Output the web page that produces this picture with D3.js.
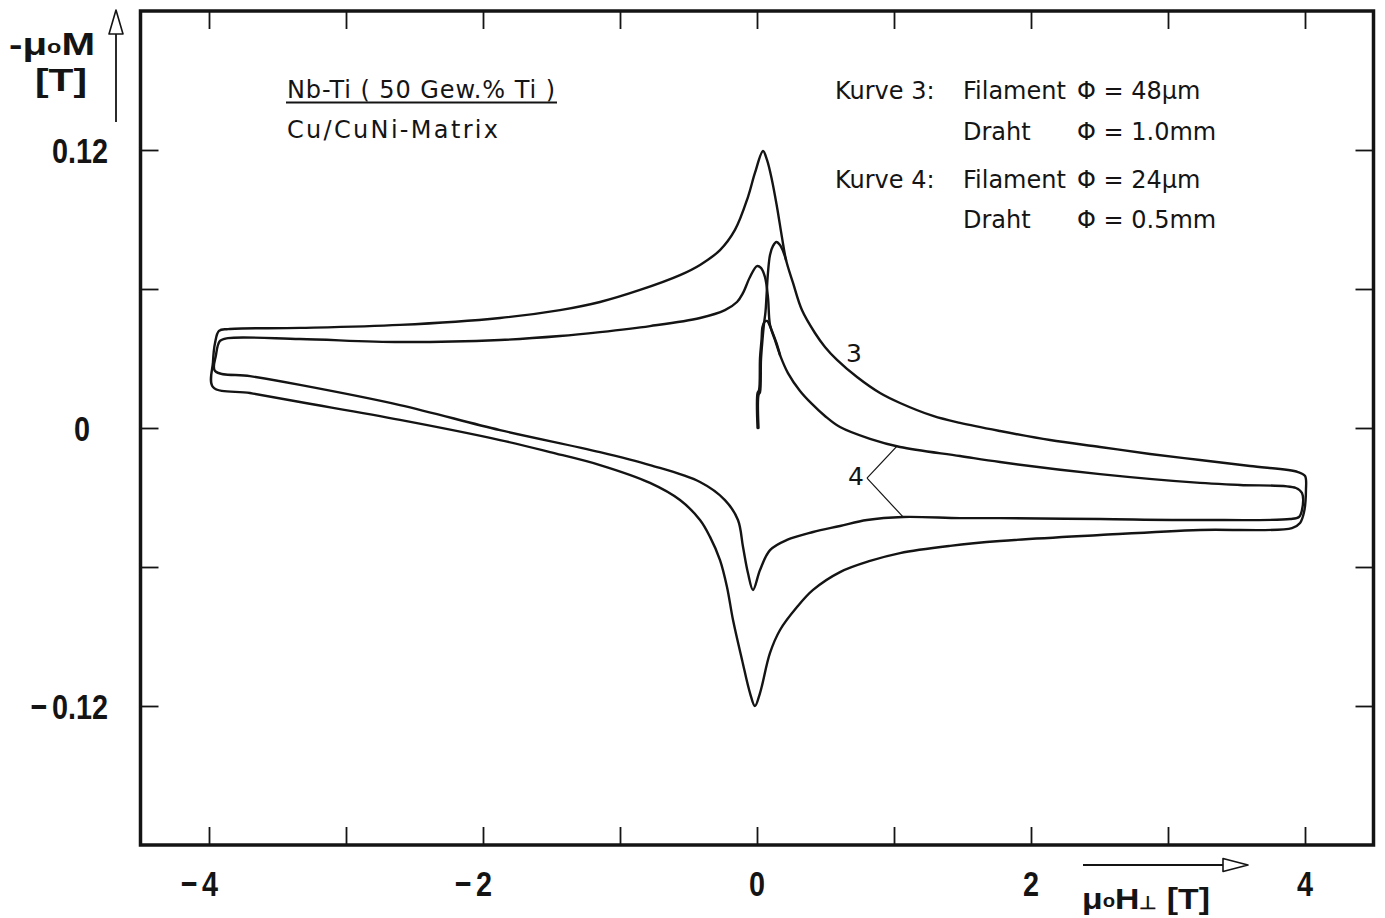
<!DOCTYPE html>
<html><head><meta charset="utf-8">
<script src="https://cdn.jsdelivr.net/npm/d3@7"></script>
<style>
body{margin:0;background:#fff}
svg{display:block}
</style>
</head><body>
<svg id="chart" width="1385" height="918"></svg>
<script>
// Axis ticks
const xTicks = [-4, -3, -2, -1, 0, 1, 2, 3, 4];
const xTickLabels = [-4, -2, 0, 2, 4];
const yTicks = [-0.12, -0.06, 0, 0.06, 0.12];
const yTickLabels = [0.12, 0, -0.12];

// Kurve 3 (48 µm filament): closed hysteresis loop, H in T, -µ0M in T
const loop3H = [-3.971,-3.971,-3.956,-3.927,-3.861,-3.336,-2.606,-1.876,-1.438,-1.146,-0.854,-0.562,-0.416,-0.270,-0.161,-0.066,-0.015,0.044,0.073,0.109,0.146,0.182,0.212,0.263,0.328,0.423,0.496,0.584,0.730,0.898,1.044,1.285,1.482,1.774,2.139,2.504,2.869,3.234,3.599,3.949,4.000,4.007,3.993,3.964,3.905,
  3.234,2.504,1.774,1.409,1.044,0.825,0.606,0.409,0.292,0.168,0.095,0.022,-0.015,-0.051,-0.109,-0.175,-0.219,-0.270,-0.343,-0.416,-0.562,-0.781,-1.146,-1.511,-1.876,-2.606,-3.336,-3.701];
const loop3M = [0.0177,0.0285,0.0367,0.0419,0.0427,0.0432,0.0445,0.0475,0.0509,0.0544,0.0596,0.0660,0.0704,0.0768,0.0855,0.0997,0.1101,0.1196,0.1157,0.1071,0.0954,0.0824,0.0725,0.0626,0.0509,0.0410,0.0350,0.0294,0.0220,0.0151,0.0108,0.0052,0.0022,-0.0013,-0.0052,-0.0082,-0.0112,-0.0138,-0.0164,-0.0190,-0.0207,-0.0268,-0.0363,-0.0410,-0.0432,
  -0.0440,-0.0462,-0.0488,-0.0509,-0.0540,-0.0574,-0.0622,-0.0699,-0.0773,-0.0872,-0.0971,-0.1144,-0.1200,-0.1144,-0.1001,-0.0829,-0.0686,-0.0570,-0.0470,-0.0397,-0.0311,-0.0237,-0.0160,-0.0104,-0.0052,0.0035,0.0112,0.0151];

// Kurve 4 (24 µm filament): closed hysteresis loop
const loop4H = [-3.956,-3.949,-3.920,-3.861,-3.336,-2.606,-1.876,-1.438,-1.146,-0.781,-0.416,-0.234,-0.146,-0.102,-0.051,0.000,0.029,0.058,0.080,0.095,0.131,0.168,0.226,0.314,0.401,0.496,0.606,0.825,1.044,1.482,1.774,2.504,3.234,3.526,3.934,3.978,3.978,3.956,3.891,
  3.234,2.504,1.774,1.482,1.066,0.803,0.606,0.409,0.219,0.095,0.022,-0.029,-0.066,-0.102,-0.139,-0.234,-0.416,-0.781,-1.146,-1.876,-2.606,-3.336,-3.701];
const loop4M = [0.0246,0.0315,0.0376,0.0388,0.0384,0.0371,0.0380,0.0397,0.0414,0.0440,0.0475,0.0509,0.0544,0.0583,0.0652,0.0699,0.0691,0.0652,0.0565,0.0445,0.0380,0.0315,0.0237,0.0160,0.0104,0.0052,0.0004,-0.0047,-0.0082,-0.0121,-0.0147,-0.0199,-0.0237,-0.0246,-0.0259,-0.0281,-0.0354,-0.0384,-0.0393,
  -0.0397,-0.0393,-0.0389,-0.0389,-0.0384,-0.0397,-0.0423,-0.0449,-0.0483,-0.0527,-0.0613,-0.0699,-0.0626,-0.0514,-0.0397,-0.0311,-0.0233,-0.0160,-0.0104,-0.0009,0.0099,0.0186,0.0224];

// Virgin (initial) magnetization curves starting at the origin
const virgin3H = [0.011,0.011,0.022,0.029,0.040,0.051,0.062,0.069,0.080,0.095,0.117,0.142,0.168,0.190,0.212];
const virgin3M = [0,0.0142,0.0155,0.0294,0.0380,0.0449,0.0501,0.0565,0.0669,0.0747,0.0786,0.0803,0.0790,0.0764,0.0725];
const virgin4H = [0.004,0.004,0.015,0.022,0.033,0.040,0.055,0.073,0.091,0.109,0.142,0.168];
const virgin4M = [0,0.0151,0.0164,0.0302,0.0380,0.0436,0.0458,0.0462,0.0445,0.0419,0.0367,0.0315];

// Curve labels and leader lines (data coordinates)
const label3 = {text: "3", H: 0.708, M: 0.0285};
const label4 = {text: "4", H: 0.723, M: -0.0246};
const leader4Vertex = [0.803, -0.0216];
const leader4Ends = [[1.022, -0.0078], [1.066, -0.0384]];

// Legend text
const sampleLines = ["Nb-Ti ( 50 Gew.% Ti )", "Cu/CuNi-Matrix"];
const curveRows = [
  ["Kurve 3:", "Filament", "Φ = 48μm"],
  ["", "Draht", "Φ = 1.0mm"],
  ["Kurve 4:", "Filament", "Φ = 24μm"],
  ["", "Draht", "Φ = 0.5mm"]
];

const svg = d3.select("#chart");
const plot = {left: 140.5, right: 1373.5, top: 11, bottom: 845};

const x = d3.scaleLinear().domain([-4.5, 4.5]).range([plot.left, plot.right]);
const y = d3.scaleLinear().domain([-0.18, 0.18]).range([plot.bottom, plot.top]);

const ink = "#141414";

// Inward ticks on all four sides
const tickLen = 18;
svg.append("g").attr("transform", `translate(0,${plot.bottom})`)
  .call(d3.axisTop(x).tickValues(xTicks).tickSize(tickLen).tickFormat(""))
  .call(g => g.select(".domain").remove());
svg.append("g").attr("transform", `translate(0,${plot.top})`)
  .call(d3.axisBottom(x).tickValues(xTicks).tickSize(tickLen).tickFormat(""))
  .call(g => g.select(".domain").remove());
svg.append("g").attr("transform", `translate(${plot.left},0)`)
  .call(d3.axisRight(y).tickValues(yTicks).tickSize(tickLen).tickFormat(""))
  .call(g => g.select(".domain").remove());
svg.append("g").attr("transform", `translate(${plot.right},0)`)
  .call(d3.axisLeft(y).tickValues(yTicks).tickSize(tickLen).tickFormat(""))
  .call(g => g.select(".domain").remove());
svg.selectAll(".tick line").attr("stroke", ink).attr("stroke-width", 1.8);

// Frame
svg.append("rect")
  .attr("x", plot.left).attr("y", plot.top)
  .attr("width", plot.right - plot.left).attr("height", plot.bottom - plot.top)
  .attr("fill", "none").attr("stroke", ink).attr("stroke-width", 3.5);

// Tick labels (bold, condensed lettering); minus sign drawn with a small gap
const tickFont = "'Liberation Sans', Arial, sans-serif";
function tickLabel(tx, ty, anchor, v, digits) {
  const t = svg.append("text")
    .attr("transform", `translate(${tx},${ty}) scale(0.8,1)`)
    .attr("text-anchor", anchor)
    .attr("font-family", tickFont).attr("font-weight", "bold")
    .attr("font-size", 36).attr("fill", ink);
  if (v < 0) {
    t.append("tspan").text("\u2212");
    t.append("tspan").attr("dx", 6).text(digits);
  } else {
    t.text(digits);
  }
}
yTickLabels.forEach(v => {
  const digits = v === 0 ? "0" : Math.abs(v).toFixed(2);
  tickLabel(v === 0 ? 82 : 108, y(v) + 13, v === 0 ? "middle" : "end", v, digits);
});
xTickLabels.forEach(v => {
  tickLabel(x(v) + (v < 0 ? 9 : 0), 896, v < 0 ? "end" : "middle", v, String(Math.abs(v)));
});

// Curves
const line = d3.line().x(d => x(d[0])).y(d => y(d[1]));
const zipHM = (hs, ms) => hs.map((h, i) => [h, ms[i]]);
const curveStyle = sel => sel.attr("fill", "none").attr("stroke", ink)
  .attr("stroke-width", 2.4).attr("stroke-linejoin", "round").attr("stroke-linecap", "round");

svg.append("path").datum(zipHM(loop3H, loop3M))
  .attr("d", line.curve(d3.curveCatmullRomClosed.alpha(0.5))).call(curveStyle);
svg.append("path").datum(zipHM(loop4H, loop4M))
  .attr("d", line.curve(d3.curveCatmullRomClosed.alpha(0.5))).call(curveStyle);
svg.append("path").datum(zipHM(virgin3H, virgin3M))
  .attr("d", line.curve(d3.curveCatmullRom.alpha(0.5))).call(curveStyle);
svg.append("path").datum(zipHM(virgin4H, virgin4M))
  .attr("d", line.curve(d3.curveCatmullRom.alpha(0.5))).call(curveStyle);

// Curve labels
const labelFont = "'DejaVu Sans', sans-serif";
[label3, label4].forEach(l => {
  svg.append("text").attr("x", x(l.H)).attr("y", y(l.M))
    .attr("text-anchor", "middle").attr("font-family", labelFont)
    .attr("font-size", 25).attr("fill", ink).text(l.text);
});
leader4Ends.forEach(e => {
  svg.append("line")
    .attr("x1", x(leader4Vertex[0])).attr("y1", y(leader4Vertex[1]))
    .attr("x2", x(e[0])).attr("y2", y(e[1]))
    .attr("stroke", ink).attr("stroke-width", 1.2);
});

// Sample description (top left)
const textFont = "'DejaVu Sans', sans-serif";
svg.append("text").attr("x", 287).attr("y", 98)
  .attr("font-family", textFont).attr("font-size", 24).attr("fill", ink)
  .attr("textLength", 268).attr("lengthAdjust", "spacing")
  .text(sampleLines[0]);
svg.append("line").attr("x1", 286).attr("x2", 557).attr("y1", 102.5).attr("y2", 102.5)
  .attr("stroke", ink).attr("stroke-width", 1.8);
svg.append("text").attr("x", 287).attr("y", 138)
  .attr("font-family", textFont).attr("font-size", 24).attr("fill", ink)
  .attr("textLength", 211).attr("lengthAdjust", "spacing")
  .text(sampleLines[1]);

// Curve legend (top right)
const colX = [835, 963, 1077];
const rowY = [99, 140, 188, 228];
curveRows.forEach((row, r) => {
  row.forEach((s, c) => {
    if (!s) return;
    svg.append("text").attr("x", colX[c]).attr("y", rowY[r])
      .attr("font-family", textFont).attr("font-size", 24).attr("fill", ink)
      .text(s);
  });
});

// Axis titles with arrows
const titleFont = "'Liberation Sans', Arial, sans-serif";
const yTitle = svg.append("text").attr("x", 9).attr("y", 55)
  .attr("font-family", titleFont).attr("font-weight", "bold").attr("font-size", 31).attr("fill", ink)
  .attr("textLength", 86).attr("lengthAdjust", "spacingAndGlyphs");
yTitle.append("tspan").text("-μ");
yTitle.append("tspan").attr("font-size", 18).attr("dy", -2).text("o");
yTitle.append("tspan").attr("dy", 2).text("M");
svg.append("text").attr("x", 35).attr("y", 91)
  .attr("font-family", titleFont).attr("font-weight", "bold").attr("font-size", 31).attr("fill", ink)
  .attr("textLength", 52).attr("lengthAdjust", "spacingAndGlyphs")
  .text("[T]");

// Upward arrow beside the y title
svg.append("line").attr("x1", 116).attr("x2", 116).attr("y1", 122).attr("y2", 34)
  .attr("stroke", ink).attr("stroke-width", 1.8);
svg.append("path").attr("d", "M116,10 L109,34 L123,34 Z")
  .attr("fill", "#fff").attr("stroke", ink).attr("stroke-width", 1.6).attr("stroke-linejoin", "round");

// Rightward arrow above the x title
svg.append("line").attr("x1", 1083).attr("x2", 1223).attr("y1", 865).attr("y2", 865)
  .attr("stroke", ink).attr("stroke-width", 1.8);
svg.append("path").attr("d", "M1248,865 L1223,858.5 L1223,871.5 Z")
  .attr("fill", "#fff").attr("stroke", ink).attr("stroke-width", 1.6).attr("stroke-linejoin", "round");

const xTitle = svg.append("text").attr("x", 1082).attr("y", 909)
  .attr("font-family", titleFont).attr("font-weight", "bold").attr("font-size", 30).attr("fill", ink)
  .attr("textLength", 128).attr("lengthAdjust", "spacingAndGlyphs");
xTitle.append("tspan").text("μ");
xTitle.append("tspan").attr("font-size", 18).attr("dy", -2).text("o");
xTitle.append("tspan").attr("dy", 2).text("H");
xTitle.append("tspan").attr("font-size", 18).text("⊥");
xTitle.append("tspan").text(" [T]");
</script>
</body></html>
